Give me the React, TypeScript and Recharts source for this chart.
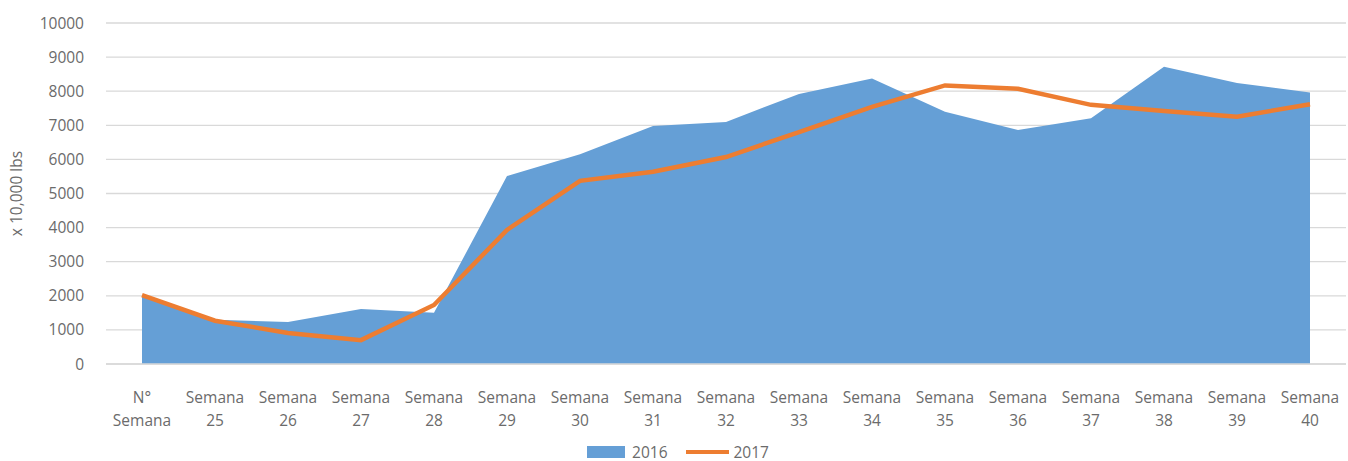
import React from 'react';
import { ComposedChart, Area, Line, XAxis, YAxis, CartesianGrid, Legend } from 'recharts';

const categories = [
  'N° Semana', 'Semana 25', 'Semana 26', 'Semana 27', 'Semana 28', 'Semana 29', 'Semana 30',
  'Semana 31', 'Semana 32', 'Semana 33', 'Semana 34', 'Semana 35', 'Semana 36', 'Semana 37',
  'Semana 38', 'Semana 39', 'Semana 40',
];
const values2016 = [1970, 1300, 1230, 1610, 1500, 5510, 6150, 6980, 7100, 7920, 8370, 7400, 6860, 7210, 8720, 8240, 7960];
const values2017 = [2020, 1270, 910, 700, 1730, 3930, 5370, 5640, 6070, 6800, 7540, 8170, 8070, 7600, 7420, 7250, 7620];
const yTicks = [0, 1000, 2000, 3000, 4000, 5000, 6000, 7000, 8000, 9000, 10000];

const data = categories.map((c, i) => ({ name: c, s2016: values2016[i], s2017: values2017[i] }));

const FONT = '"Open Sans", sans-serif';
const TEXT = '#6b6b6b';

const XTick = (props: any) => {
  const { x, y, payload } = props;
  const s: string = payload.value;
  const idx = s.indexOf(' ');
  const l1 = s.slice(0, idx);
  const l2 = s.slice(idx + 1);
  return (
    <g>
      <text x={x} y={y + 31} textAnchor="middle" fill={TEXT} fontSize={15.5} fontFamily={FONT}>{l1}</text>
      <text x={x} y={y + 54} textAnchor="middle" fill={TEXT} fontSize={15.5} fontFamily={FONT}>{l2}</text>
    </g>
  );
};

const LegendContent = () => (
  <div style={{ height: 20, paddingLeft: 10, display: 'flex', justifyContent: 'center', alignItems: 'center', fontFamily: FONT, fontSize: 15.5, color: TEXT }}>
    <svg width={40} height={14} style={{ marginRight: 5 }}>
      <rect x={0} y={1} width={38} height={12} fill="#659FD6" />
    </svg>
    <span style={{ marginRight: 18 }}>2016</span>
    <svg width={44} height={14} style={{ marginRight: 4 }}>
      <line x1={0} y1={7} x2={43} y2={7} stroke="#ED7D31" strokeWidth={4} />
    </svg>
    <span>2017</span>
  </div>
);

export default function App() {
  return (
    <div style={{ position: 'absolute', left: 0, top: 0, background: '#fff' }}>
      <ComposedChart width={1348} height={461} data={data} margin={{ top: 23, right: 2, left: 0, bottom: 0 }}>
        <CartesianGrid vertical={false} stroke="#d9d9d9" strokeWidth={1.3} />
        <XAxis
          dataKey="name"
          interval={0}
          tick={<XTick />}
          tickLine={false}
          axisLine={{ stroke: '#d9d9d9', strokeWidth: 1.3 }}
          padding={{ left: 36, right: 36 }}
          height={77}
        />
        <YAxis
          domain={[0, 10000]}
          ticks={yTicks}
          interval={0}
          width={106}
          tickLine={false}
          axisLine={false}
          tickMargin={16}
          tick={{ fill: TEXT, fontSize: 15.5, fontFamily: FONT }}
          label={{ value: 'x 10,000 lbs', angle: -90, position: 'insideLeft', offset: 16, style: { textAnchor: 'middle', fill: TEXT, fontSize: 15.5, fontFamily: FONT } }}
        />
        <Legend verticalAlign="bottom" content={<LegendContent />} wrapperStyle={{ bottom: -1 }} />
        <Area type="linear" dataKey="s2016" name="2016" stroke="none" fill="#659FD6" fillOpacity={1} isAnimationActive={false} />
        <Line type="linear" dataKey="s2017" name="2017" stroke="#ED7D31" strokeWidth={4.5} dot={false} isAnimationActive={false} />
      </ComposedChart>
    </div>
  );
}
